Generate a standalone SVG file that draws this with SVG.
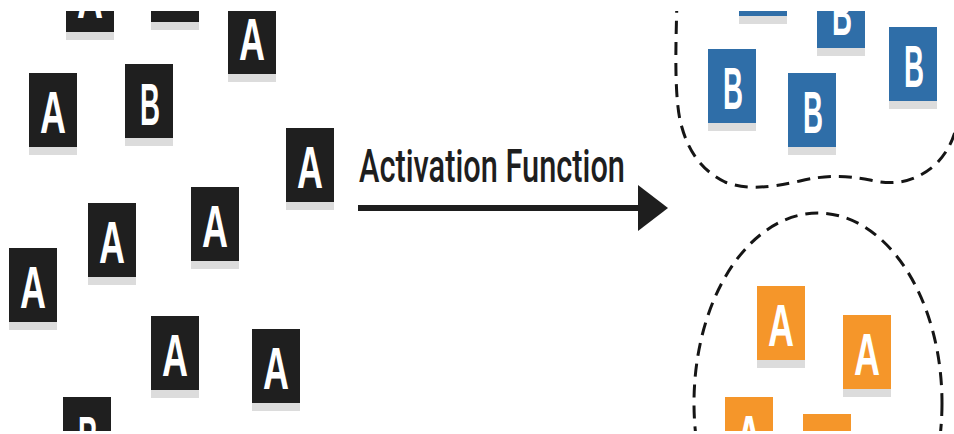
<svg xmlns="http://www.w3.org/2000/svg" width="954" height="434" viewBox="0 0 954 434">
<style>
.sh{fill:#dcdcdc}
.bk{fill:#1f1f1f}
.bl{fill:#2f6ea8}
.or{fill:#f5962a}
.lt{fill:#ffffff;font-family:"Liberation Sans",Arial,sans-serif;font-weight:bold;font-size:60px;text-anchor:middle}
.dash{fill:none;stroke:#151515;stroke-width:3;stroke-dasharray:13 8}
.lbl{fill:#1e1e1e;font-family:Roboto,"Liberation Sans",Arial,sans-serif;font-weight:500;font-size:46px}
</style>
<defs>
<clipPath id="clip"><rect x="0" y="11" width="954" height="420"/></clipPath>
</defs>
<rect width="954" height="434" fill="#ffffff"/>
<g clip-path="url(#clip)">
<g id="card1" transform="translate(66,-42)"><rect class="sh" y="74" width="48" height="8"/><rect class="bk" width="48" height="74"/><text class="lt" x="24" y="60" textLength="26" lengthAdjust="spacingAndGlyphs">A</text></g>
<g id="card2" transform="translate(151,-52)"><rect class="sh" y="74" width="48" height="8"/><rect class="bk" width="48" height="74"/></g>
<g id="card3" transform="translate(228,0)"><rect class="sh" y="74" width="48" height="8"/><rect class="bk" width="48" height="74"/><text class="lt" x="24" y="60" textLength="26" lengthAdjust="spacingAndGlyphs">A</text></g>
<g id="card4" transform="translate(29,73)"><rect class="sh" y="74" width="48" height="8"/><rect class="bk" width="48" height="74"/><text class="lt" x="24" y="60" textLength="26" lengthAdjust="spacingAndGlyphs">A</text></g>
<g id="card5" transform="translate(125,64)"><rect class="sh" y="74" width="48" height="8"/><rect class="bk" width="48" height="74"/><text class="lt" x="25" y="61" textLength="20" lengthAdjust="spacingAndGlyphs">B</text></g>
<g id="card6" transform="translate(286,128)"><rect class="sh" y="74" width="48" height="8"/><rect class="bk" width="48" height="74"/><text class="lt" x="24" y="60" textLength="26" lengthAdjust="spacingAndGlyphs">A</text></g>
<g id="card7" transform="translate(88,203)"><rect class="sh" y="74" width="48" height="8"/><rect class="bk" width="48" height="74"/><text class="lt" x="24" y="60" textLength="26" lengthAdjust="spacingAndGlyphs">A</text></g>
<g id="card8" transform="translate(191,187)"><rect class="sh" y="74" width="48" height="8"/><rect class="bk" width="48" height="74"/><text class="lt" x="24" y="60" textLength="26" lengthAdjust="spacingAndGlyphs">A</text></g>
<g id="card9" transform="translate(9,248)"><rect class="sh" y="74" width="48" height="8"/><rect class="bk" width="48" height="74"/><text class="lt" x="24" y="60" textLength="26" lengthAdjust="spacingAndGlyphs">A</text></g>
<g id="card10" transform="translate(151,316)"><rect class="sh" y="74" width="48" height="8"/><rect class="bk" width="48" height="74"/><text class="lt" x="24" y="60" textLength="26" lengthAdjust="spacingAndGlyphs">A</text></g>
<g id="card11" transform="translate(252,329)"><rect class="sh" y="74" width="48" height="8"/><rect class="bk" width="48" height="74"/><text class="lt" x="24" y="60" textLength="26" lengthAdjust="spacingAndGlyphs">A</text></g>
<g id="card12" transform="translate(63,397)"><rect class="sh" y="74" width="48" height="8"/><rect class="bk" width="48" height="74"/><text class="lt" x="25" y="61" textLength="20" lengthAdjust="spacingAndGlyphs">B</text></g>

<g id="cluster-b"><path class="dash" d="M677,0 C676,40 674,90 680,120 C688,155 705,172 725,182 C745,190 770,188 800,181 C825,175 845,175 870,180 C895,186 915,182 935,165 C948,152 953,140 957,125 L962,60 L958,0"/></g>
<g id="card13" transform="translate(739,-58)"><rect class="sh" y="74" width="48" height="8"/><rect class="bl" width="48" height="74"/></g>
<g id="card14" transform="translate(817,-26)"><rect class="sh" y="74" width="48" height="8"/><rect class="bl" width="48" height="74"/><text class="lt" x="25" y="61" textLength="20" lengthAdjust="spacingAndGlyphs">B</text></g>
<g id="card15" transform="translate(708,49)"><rect class="sh" y="74" width="48" height="8"/><rect class="bl" width="48" height="74"/><text class="lt" x="25" y="60" textLength="20" lengthAdjust="spacingAndGlyphs">B</text></g>
<g id="card16" transform="translate(788,73)"><rect class="sh" y="74" width="48" height="8"/><rect class="bl" width="48" height="74"/><text class="lt" x="25" y="60" textLength="20" lengthAdjust="spacingAndGlyphs">B</text></g>
<g id="card17" transform="translate(889,27)"><rect class="sh" y="74" width="48" height="8"/><rect class="bl" width="48" height="74"/><text class="lt" x="25" y="60" textLength="20" lengthAdjust="spacingAndGlyphs">B</text></g>

<g id="cluster-a"><ellipse class="dash" cx="818" cy="403" rx="124" ry="190"/></g>
<g id="card18" transform="translate(757,286)"><rect class="sh" y="74" width="48" height="8"/><rect class="or" width="48" height="74"/><text class="lt" x="24" y="60" textLength="26" lengthAdjust="spacingAndGlyphs">A</text></g>
<g id="card19" transform="translate(843,315)"><rect class="sh" y="74" width="48" height="8"/><rect class="or" width="48" height="74"/><text class="lt" x="24" y="60" textLength="26" lengthAdjust="spacingAndGlyphs">A</text></g>
<g id="card20" transform="translate(725,397)"><rect class="sh" y="74" width="48" height="8"/><rect class="or" width="48" height="74"/><text class="lt" x="24" y="60" textLength="26" lengthAdjust="spacingAndGlyphs">A</text></g>
<g id="card21" transform="translate(803,414)"><rect class="sh" y="74" width="48" height="8"/><rect class="or" width="48" height="74"/><text class="lt" x="24" y="60" textLength="26" lengthAdjust="spacingAndGlyphs">A</text></g>
</g>

<g id="connectors">
<line x1="358" y1="208" x2="642" y2="208" stroke="#1e1e1e" stroke-width="6"/>
<polygon points="638,185 668,208 638,231" fill="#1e1e1e"/>
</g>
<g id="label"><text class="lbl" x="359" y="182" textLength="266" lengthAdjust="spacingAndGlyphs">Activation Function</text></g>
</svg>
